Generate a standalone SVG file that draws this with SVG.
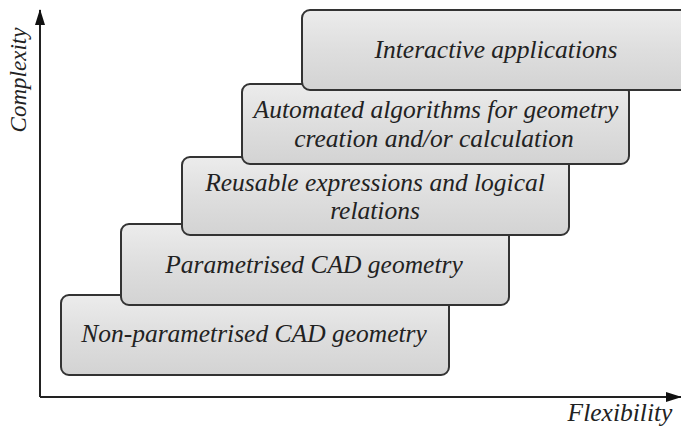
<svg xmlns="http://www.w3.org/2000/svg" width="681" height="429" viewBox="0 0 681 429">
<defs>
<linearGradient id="g" x1="0" y1="0" x2="0" y2="1">
<stop offset="0" stop-color="#ececec"/>
<stop offset="0.5" stop-color="#dedede"/>
<stop offset="1" stop-color="#d3d3d3"/>
</linearGradient>
<marker id="ah" markerWidth="16" markerHeight="10" refX="15" refY="5" orient="auto" markerUnits="userSpaceOnUse" viewBox="0 0 16 10">
<path d="M0,0 L16,5 L0,10 z" fill="#111"/>
</marker>
<style>
.box{fill:url(#g);stroke:#333;stroke-width:2}
.ax{stroke:#222;stroke-width:2;fill:none}
.t{font-family:'Liberation Serif','Times New Roman',serif;font-style:italic;font-size:25.5px;fill:#222;text-anchor:middle}
.a{font-size:23px}
</style>
</defs>
<rect width="681" height="429" fill="#fff"/>
<g id="connectors">
<path class="ax" d="M40,397 L40,10" marker-end="url(#ah)"/>
<path class="ax" d="M40,397 L681,397" marker-end="url(#ah)"/>
</g>
<g id="n5">
<rect class="box" x="61" y="295" width="388" height="80" rx="8"/>
<text class="t" x="254" y="342">Non-parametrised CAD geometry</text>
</g>
<g id="n4">
<rect class="box" x="121" y="224" width="388" height="81" rx="8"/>
<text class="t" x="314" y="273">Parametrised CAD geometry</text>
</g>
<g id="n3">
<rect class="box" x="182" y="157" width="387" height="78" rx="8"/>
<text class="t" x="375" y="191">Reusable expressions and logical</text>
<text class="t" x="375" y="219">relations</text>
</g>
<g id="n2">
<rect class="box" x="242" y="84" width="387" height="80" rx="8"/>
<text class="t" x="436" y="118">Automated algorithms for geometry</text>
<text class="t" x="434" y="147">creation and/or calculation</text>
</g>
<g id="n1">
<rect class="box" x="302" y="10" width="395" height="80" rx="8"/>
<text class="t" x="496" y="58">Interactive applications</text>
</g>
<text class="t a" transform="translate(26,80) rotate(-90)">Complexity</text>
<text class="t" x="620" y="421">Flexibility</text>
</svg>
